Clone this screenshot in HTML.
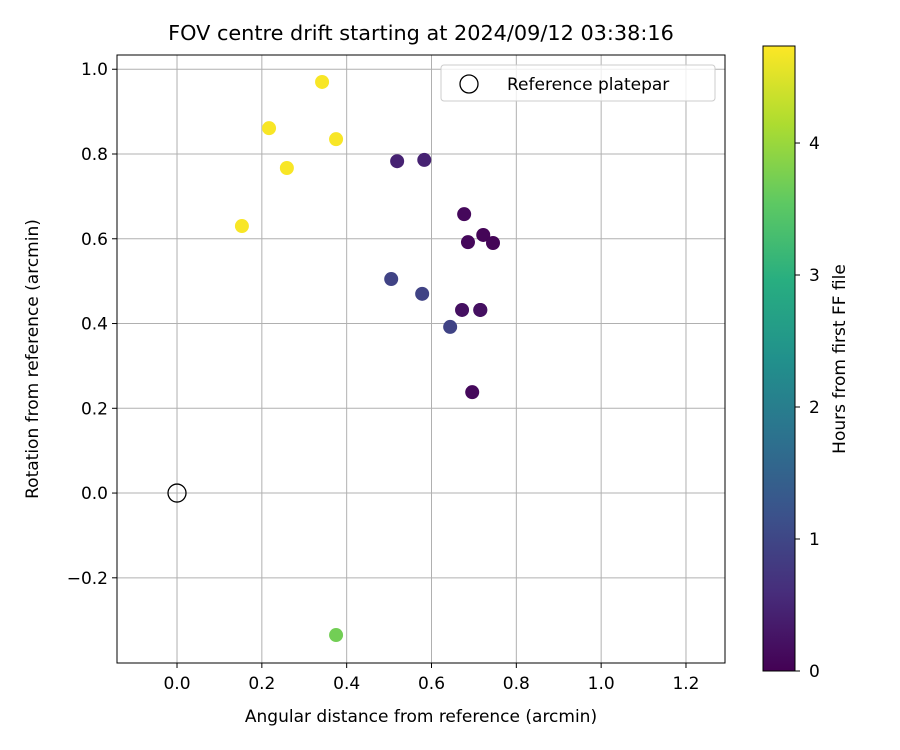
<!DOCTYPE html>
<html><head><meta charset="utf-8"><style>
body{margin:0;background:#fff}
svg{display:block;font-family:"DejaVu Sans","Liberation Sans",sans-serif}
</style></head><body>
<svg id="chart" width="900" height="750" viewBox="0 0 900 750" xmlns="http://www.w3.org/2000/svg">
<defs><linearGradient id="vir" x1="0" y1="1" x2="0" y2="0">
<stop offset="0" stop-color="#440154"/><stop offset="0.125" stop-color="#472d7b"/><stop offset="0.25" stop-color="#3b528b"/><stop offset="0.375" stop-color="#2c728e"/><stop offset="0.5" stop-color="#21918c"/><stop offset="0.625" stop-color="#28ae80"/><stop offset="0.75" stop-color="#5ec962"/><stop offset="0.875" stop-color="#addc30"/><stop offset="1" stop-color="#fde725"/></linearGradient></defs>
<g id="grid"></g>
<g id="pts"></g>
<rect x="117" y="55" width="608" height="608" fill="none" stroke="#000" stroke-width="1"/>
<g id="ticks" font-size="17" fill="#000"></g>
<text x="421" y="40" font-size="20.8" text-anchor="middle">FOV centre drift starting at 2024/09/12 03:38:16</text>
<text x="421" y="722" font-size="17" text-anchor="middle">Angular distance from reference (arcmin)</text>
<text transform="translate(38,359) rotate(-90)" font-size="17" text-anchor="middle">Rotation from reference (arcmin)</text>
<g>
<rect x="441" y="65" width="274" height="36" rx="3" fill="#fff" fill-opacity="0.8" stroke="#ccc"/>
<circle cx="469" cy="84" r="9" fill="none" stroke="#000" stroke-width="1.3"/>
<text x="507" y="90" font-size="17">Reference platepar</text>
</g>
<circle id="refpt" r="9" fill="none" stroke="#000" stroke-width="1.3"/>
<rect x="763" y="46" width="32" height="625" fill="url(#vir)" stroke="#000" stroke-width="1"/>
<g id="cbticks" font-size="17"></g>
<text transform="translate(845,359) rotate(-90)" font-size="17" text-anchor="middle">Hours from first FF file</text>
</svg>
<script>
const xValues=[0.342,0.217,0.375,0.259,0.153,0.519,0.583,0.677,0.686,0.722,0.745,0.505,0.578,0.644,0.672,0.715,0.715,0.696,0.375];
const yValues=[0.970,0.861,0.835,0.767,0.630,0.783,0.786,0.658,0.592,0.609,0.590,0.505,0.470,0.392,0.432,0.432,0.432,0.238,-0.335];
const hours=[4.7,4.7,4.7,4.7,4.7,0.45,0.45,0.1,0.1,0.05,0.05,0.95,0.95,0.95,0.2,0.2,0.2,0.1,3.7];
const xTicks=[0,0.2,0.4,0.6,0.8,1.0,1.2];
const yTicks=[-0.2,0,0.2,0.4,0.6,0.8,1.0];
const cbTicks=[0,1,2,3,4];
const X0=-0.1415,X1=1.292,Y0=-0.401,Y1=1.0336,HMAX=4.735;
const sx=v=>117+(v-X0)/(X1-X0)*608;
const sy=v=>663-(v-Y0)/(Y1-Y0)*608;
const sc=v=>671-v/HMAX*625;
const NS="http://www.w3.org/2000/svg";
const vir=[[68,1,84],[71,45,123],[59,82,139],[44,114,142],[33,145,140],[40,174,128],[94,201,98],[173,220,48],[253,231,37]];
function cmap(h){let t=Math.max(0,Math.min(1,h/HMAX))*8,i=Math.min(7,Math.floor(t)),f=t-i;const c=vir[i].map((a,k)=>Math.round(a+(vir[i+1][k]-a)*f));return `rgb(${c})`;}
function mk(tag,at,parent,txt){const e=document.createElementNS(NS,tag);for(const k in at)e.setAttribute(k,at[k]);if(txt!==undefined)e.textContent=txt;document.getElementById(parent).appendChild(e);return e;}
xTicks.forEach(v=>{const x=sx(v);
 const g=mk("line",{x1:x,x2:x,y1:55,y2:663,stroke:"#b0b0b0","stroke-width":1},"grid");
 
 
 const t=mk("line",{x1:x,x2:x,y1:663,y2:668,stroke:"#000"},"ticks");
 
 
 const l=mk("text",{x:x,y:689,"text-anchor":"middle"},"ticks",v.toFixed(1));
 
 
});
yTicks.forEach(v=>{const y=sy(v);
 const g=mk("line",{x1:117,x2:725,y1:y,y2:y,stroke:"#b0b0b0","stroke-width":1},"grid");
 
 
 const t=mk("line",{x1:112,x2:117,y1:y,y2:y,stroke:"#000"},"ticks");
 
 
 const l=mk("text",{x:108,y:y+6,"text-anchor":"end"},"ticks",v<0?"\u2212"+Math.abs(v).toFixed(1):v.toFixed(1));
 
 
});
xValues.forEach((xv,i)=>{
 const c=mk("circle",{cx:sx(xv),cy:sy(yValues[i]),r:7,fill:cmap(hours[i])},"pts");
 
 
});
const rp=document.getElementById("refpt");rp.setAttribute("cx",sx(0));rp.setAttribute("cy",sy(0));
cbTicks.forEach(v=>{const y=sc(v);
 const t=mk("line",{x1:795,x2:800,y1:y,y2:y,stroke:"#000"},"cbticks");
 
 
 const l=mk("text",{x:809,y:y+6},"cbticks",String(v));
 
 
});
</script>
</body></html>
